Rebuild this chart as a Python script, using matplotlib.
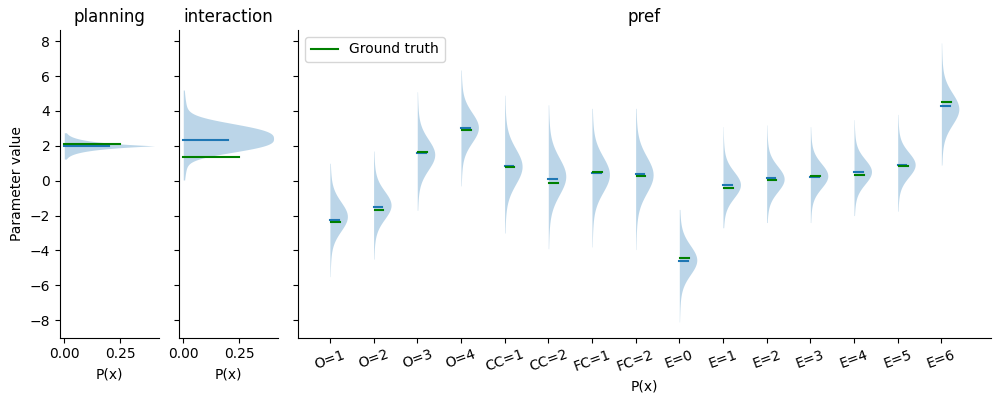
import numpy as np
import matplotlib
matplotlib.use("Agg")
import matplotlib.pyplot as plt

# pref 카테고리와 각 분포의 요약값
pref_labels = ["O=1", "O=2", "O=3", "O=4", "CC=1", "CC=2", "FC=1", "FC=2",
               "E=0", "E=1", "E=2", "E=3", "E=4", "E=5", "E=6"]
pref_mode = [-2.05, -1.40, 1.50, 3.05, 0.82, 0.25, 0.36, 0.34,
             -4.55, -0.23, 0.10, 0.28, 0.52, 0.92, 4.12]
pref_low = [-5.5, -4.5, -1.7, -0.3, -3.0, -3.9, -3.8, -3.95,
            -8.1, -2.7, -2.4, -2.4, -2.0, -1.75, 0.9]
pref_high = [1.0, 1.7, 5.1, 6.35, 4.9, 4.35, 4.15, 4.15,
             -1.65, 3.1, 3.2, 3.1, 3.5, 3.8, 7.9]
pref_spread = [1.15, 1.10, 1.20, 1.18, 1.40, 1.45, 1.40, 1.43,
               1.15, 1.03, 1.00, 0.97, 0.97, 0.97, 1.24]
pref_mean = [-2.23, -1.49, 1.60, 3.04, 0.86, 0.11, 0.46, 0.40,
             -4.62, -0.27, 0.13, 0.19, 0.48, 0.90, 4.26]
pref_truth = [-2.35, -1.66, 1.66, 2.92, 0.80, -0.11, 0.47, 0.25,
              -4.45, -0.44, 0.02, 0.27, 0.33, 0.82, 4.49]

# planning / interaction 단일 분포
planning = dict(mode=2.0, low=1.24, high=2.75, s_lo=0.2, s_hi=0.2, power=1.0, tail=0.1)
planning_mean, planning_truth = 1.98, 2.09
interaction = dict(mode=2.42, low=0.04, high=5.2, s_lo=0.92, s_hi=1.0, power=2.8, tail=0.08)
interaction_mean, interaction_truth = 2.36, 1.35

fill_color = "#1f77b4"


def profile(y, mode, s_lo, s_hi, power, tail):
    """반쪽 바이올린의 폭 (최대값 1로 정규화)"""
    s = np.where(y < mode, s_lo, s_hi)
    z = np.abs(y - mode) / s
    w = (1 - tail) * np.exp(-z ** power) + tail * np.exp(-(z / 2) ** 2)
    return w / w.max()


def half_violin(ax, x0, width, mode, low, high, s_lo, s_hi, power, tail):
    y = np.linspace(low, high, 400)
    w = profile(y, mode, s_lo, s_hi, power, tail) * width
    ax.fill_betweenx(y, x0, x0 + w, color=fill_color, alpha=0.3, linewidth=0)


fig, axes = plt.subplots(1, 3, figsize=(9.99, 4.04), dpi=100, sharey=True,
                         gridspec_kw={"width_ratios": [1, 1, 7]})
plt.subplots_adjust(left=0.0601, right=0.9917, bottom=0.164, top=0.926, wspace=0.0675)

# planning
ax = axes[0]
half_violin(ax, 0, 0.405, **planning)
ax.plot([0, 0.2], [planning_mean] * 2, color="C0")
ax.plot([0, 0.25], [planning_truth] * 2, color="green")
ax.set_title("planning")
ax.set_xlabel("P(x)")
ax.set_ylabel("Parameter value")
ax.set_xlim(-0.019, 0.425)
ax.set_xticks([0, 0.25])
ax.set_xticklabels(["0.00", "0.25"])

# interaction
ax = axes[1]
half_violin(ax, 0, 0.405, **interaction)
ax.plot([0, 0.2], [interaction_mean] * 2, color="C0")
ax.plot([0, 0.25], [interaction_truth] * 2, color="green")
ax.set_title("interaction")
ax.set_xlabel("P(x)")
ax.set_xlim(-0.019, 0.425)
ax.set_xticks([0, 0.25])
ax.set_xticklabels(["0.00", "0.25"])

# pref
ax = axes[2]
for i in range(len(pref_labels)):
    half_violin(ax, i, 0.4, pref_mode[i], pref_low[i], pref_high[i],
                pref_spread[i], pref_spread[i], 2.0, 0.15)
    ax.plot([i, i + 0.2], [pref_mean[i]] * 2, color="C0")
    line, = ax.plot([i + 0.025, i + 0.225], [pref_truth[i]] * 2, color="green")
line.set_label("Ground truth")
ax.legend(loc="upper left")
ax.set_title("pref")
ax.set_xlabel("P(x)")
ax.set_xticks(range(len(pref_labels)))
ax.set_xticklabels(pref_labels, rotation=20)
ax.set_xlim(-0.73, 15.13)

ax.set_ylim(-9.01, 8.65)
ax.set_yticks([-8, -6, -4, -2, 0, 2, 4, 6, 8])

for a in axes:
    a.spines["top"].set_visible(False)
    a.spines["right"].set_visible(False)

plt.savefig("out.png", dpi=100)
